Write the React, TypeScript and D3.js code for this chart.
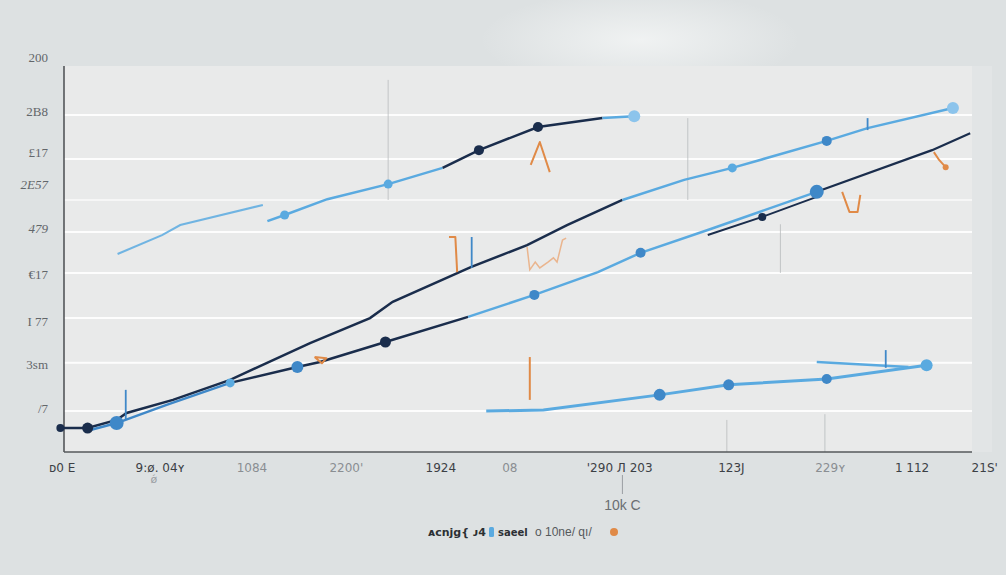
import React from "react";
import * as d3 from "d3";

// ---- data (x in 0–100 units, y in 0–100 units) ----
const yTickValues = [102.1, 88.3, 77.5, 69.4, 58.0, 46.1, 33.7, 22.8, 11.4];
const yTickLabels = ["200", "2B8", "£17", "2E57", "479", "€17", "I 77", "3sm", "/7"];
const gridValues = [87.3, 75.9, 65.3, 57.0, 46.4, 34.7, 23.1, 10.6];

const xTickValues = [-0.2, 10.6, 20.7, 31.1, 41.5, 49.1, 61.2, 73.5, 84.4, 93.4, 101.4];
const xTickLabels = ["ᴅ0 E", "9:ø. 04ʏ", "1084", "2200'", "1924", "08", "'290 Л 203", "123J", "229ʏ", "1 112", "21S'"];
const xTickDark = [true, true, false, false, true, false, true, true, false, true, true];

// upper light series (two pieces)
const seriesA1: [number, number][] = [[5.9, 51.3], [10.8, 56.2], [12.8, 58.8], [21.9, 64.0]];
const seriesA2: [number, number][] = [
  [22.4, 59.8], [24.3, 61.4], [29.0, 65.5], [35.7, 69.4], [41.7, 73.6],
  [45.7, 78.2], [52.2, 84.2], [59.3, 86.5], [62.8, 87.0],
];
// long rising series
const seriesB: [number, number][] = [
  [-0.4, 6.2], [2.6, 6.2], [5.8, 8.3], [6.9, 10.1], [12.0, 13.5], [18.3, 18.7],
  [27.1, 28.2], [33.7, 34.7], [36.2, 38.9], [44.8, 47.9], [51.0, 53.6], [55.4, 58.8],
  [61.5, 65.3], [68.3, 70.5], [73.6, 73.6], [84.0, 80.6], [88.5, 83.9], [97.9, 89.1],
];
// middle series
const seriesC: [number, number][] = [
  [2.9, 5.7], [5.8, 7.5], [11.3, 12.2], [18.3, 17.9], [25.7, 22.0], [28.2, 23.3],
  [35.4, 28.5], [44.5, 35.0], [51.8, 40.7], [58.8, 46.6], [63.5, 51.6], [70.9, 57.5],
  [82.9, 67.4], [95.6, 78.2], [99.8, 82.6],
];
const seriesE: [number, number][] = [[70.9, 56.2], [76.9, 60.9], [82.9, 66.1]];
// bottom series
const seriesD: [number, number][] = [
  [46.5, 10.6], [52.8, 10.9], [65.6, 14.8], [73.2, 17.4], [84.0, 18.9], [95.0, 22.5],
];
const seriesD2: [number, number][] = [[82.9, 23.3], [93.0, 22.0]];

// orange annotation strokes
const orangeMarks: [number, number][][] = [
  [[51.4, 74.4], [52.4, 80.3], [53.5, 72.5]],
  [[85.7, 67.4], [86.5, 62.2], [87.4, 62.2], [87.7, 66.6]],
  [[95.8, 77.7], [96.4, 75.6], [97.1, 73.8]],
  [[51.3, 24.6], [51.3, 13.5]],
  [[42.4, 55.7], [43.1, 55.7], [43.3, 46.6]],
  [[27.6, 24.6], [28.9, 24.3], [28.4, 23.0], [27.6, 24.6]],
];
const orangeFaint: [number, number][] = [
  [51.0, 53.1], [51.3, 47.2], [51.9, 49.2], [52.4, 47.7], [53.3, 49.2],
  [53.9, 50.3], [54.3, 49.2], [54.9, 54.9], [55.3, 55.4],
];
const blueSpikes: [number, number][][] = [
  [[6.8, 16.1], [6.8, 8.3]],
  [[44.9, 55.7], [44.9, 47.7]],
  [[90.5, 26.4], [90.5, 21.8]],
  [[88.5, 86.5], [88.5, 83.4]],
];
const faintVerticals: [number, number, number][] = [
  [35.7, 96.4, 65.3], [73.0, 8.3, 0], [83.8, 9.8, 0], [68.7, 86.5, 65.3], [78.9, 59.0, 46.4],
];

const NAVY = "#1a2d4c";
const LIGHT = "#5aaae0";
const MED = "#3f88c8";
const PALE = "#8cc4ec";
const ORANGE = "#e08a47";

export default function App() {
  const W = 1006, H = 575;
  const x = d3.scaleLinear().domain([0, 100]).range([64, 972]);
  const y = d3.scaleLinear().domain([0, 100]).range([452, 66]);
  const line = d3.line<[number, number]>().x((d) => x(d[0])).y((d) => y(d[1]));

  const seg = (arr: [number, number][], a: number, b: number) => arr.slice(a, b + 1);

  const dot = (p: [number, number], fill: string, r = 5, key?: string) => (
    <circle key={key} cx={x(p[0])} cy={y(p[1])} r={r} fill={fill} />
  );

  return (
    <svg width={W} height={H} style={{ position: "absolute", left: 0, top: 0, background: "#dde1e2" }}>
      <defs>
        <radialGradient id="glow" cx="0.5" cy="0.5" r="0.5">
          <stop offset="0%" stopColor="#f2f4f4" stopOpacity={0.9} />
          <stop offset="100%" stopColor="#f2f4f4" stopOpacity={0} />
        </radialGradient>
      </defs>
      <rect x={0} y={0} width={W} height={H} fill="#dde1e2" />
      <ellipse cx={640} cy={40} rx={160} ry={50} fill="url(#glow)" />
      <rect x={x(0)} y={y(100)} width={x(100) - x(0)} height={y(0) - y(100)} fill="#e9eaea" />
      <rect x={972} y={66} width={20} height={386} fill="#e2e5e6" />

      {gridValues.map((g, i) => (
        <line key={"g" + i} x1={x(0)} x2={x(100)} y1={y(g)} y2={y(g)} stroke="#ffffff" strokeWidth={2} opacity={i === 2 ? 0.6 : 0.95} />
      ))}
      {faintVerticals.map((v, i) => (
        <line key={"v" + i} x1={x(v[0])} x2={x(v[0])} y1={y(v[1])} y2={y(v[2])} stroke="#b9bcbe" strokeWidth={1} opacity={0.8} />
      ))}

      {/* axes */}
      <line x1={x(0)} x2={x(0)} y1={y(100)} y2={y(0)} stroke="#4a4d50" strokeWidth={1.5} />
      <line x1={x(0)} x2={x(100)} y1={y(0)} y2={y(0)} stroke="#55585b" strokeWidth={1.5} />

      {/* series A */}
      <path d={line(seriesA1) || ""} fill="none" stroke={LIGHT} strokeWidth={2} opacity={0.85} />
      <path d={line(seg(seriesA2, 0, 4)) || ""} fill="none" stroke={LIGHT} strokeWidth={2.5} />
      <path d={line(seg(seriesA2, 4, 7)) || ""} fill="none" stroke={NAVY} strokeWidth={2.5} />
      <path d={line(seg(seriesA2, 7, 8)) || ""} fill="none" stroke={LIGHT} strokeWidth={2.5} />

      {/* series B */}
      <path d={line(seg(seriesB, 0, 12)) || ""} fill="none" stroke={NAVY} strokeWidth={2.5} />
      <path d={line(seg(seriesB, 12, 17)) || ""} fill="none" stroke={LIGHT} strokeWidth={2.5} />

      {/* series C */}
      <path d={line(seg(seriesC, 0, 3)) || ""} fill="none" stroke={MED} strokeWidth={2.5} />
      <path d={line(seg(seriesC, 3, 7)) || ""} fill="none" stroke={NAVY} strokeWidth={2.5} />
      <path d={line(seg(seriesC, 7, 12)) || ""} fill="none" stroke={LIGHT} strokeWidth={2.5} />
      <path d={line(seg(seriesC, 12, 14)) || ""} fill="none" stroke={NAVY} strokeWidth={2.2} />
      <path d={line(seriesE) || ""} fill="none" stroke={NAVY} strokeWidth={2} />

      {/* series D */}
      <path d={line(seriesD) || ""} fill="none" stroke={LIGHT} strokeWidth={3} />
      <path d={line(seriesD2) || ""} fill="none" stroke={LIGHT} strokeWidth={2.5} />

      {/* spikes */}
      {blueSpikes.map((s, i) => (
        <path key={"bs" + i} d={line(s) || ""} fill="none" stroke={MED} strokeWidth={1.8} />
      ))}
      {orangeMarks.map((s, i) => (
        <path key={"om" + i} d={line(s) || ""} fill="none" stroke={ORANGE} strokeWidth={2} strokeLinejoin="round" />
      ))}
      <path d={line(orangeFaint) || ""} fill="none" stroke="#eab58e" strokeWidth={1.5} />

      {/* dots */}
      {dot(seriesA2[1], LIGHT, 4.5, "a1")}
      {dot(seriesA2[3], LIGHT, 4.5, "a2")}
      {dot(seriesA2[5], NAVY, 5, "a3")}
      {dot(seriesA2[6], NAVY, 5, "a4")}
      {dot(seriesA2[8], PALE, 6, "a5")}
      {dot(seriesB[0], NAVY, 4, "b0")}
      {dot(seriesB[1], NAVY, 5.5, "b1")}
      {dot(seriesB[14], LIGHT, 4.5, "b2")}
      {dot(seriesB[15], MED, 5, "b3")}
      {dot(seriesB[17], PALE, 6, "b4")}
      {dot(seriesC[1], MED, 7, "c1")}
      {dot(seriesC[3], LIGHT, 4.5, "c2")}
      {dot(seriesC[4], MED, 6, "c3")}
      {dot(seriesC[6], NAVY, 5.5, "c4")}
      {dot(seriesC[8], MED, 5, "c5")}
      {dot(seriesC[10], MED, 5, "c6")}
      {dot(seriesC[12], MED, 7, "c7")}
      {dot(seriesE[1], NAVY, 4, "e1")}
      {dot(seriesD[2], MED, 6, "d1")}
      {dot(seriesD[3], MED, 5.5, "d2")}
      {dot(seriesD[4], MED, 5, "d3")}
      {dot(seriesD[5], LIGHT, 6, "d4")}
      {dot(orangeMarks[2][2], ORANGE, 3, "o1")}

      {/* y labels */}
      {yTickValues.map((v, i) => (
        <text key={"yt" + i} x={48} y={y(v)} dy="0.35em" textAnchor="end" fontFamily="Liberation Serif, serif" fontSize={13} fill="#62666a" fontStyle={i === 3 || i === 4 ? "italic" : "normal"}>
          {yTickLabels[i]}
        </text>
      ))}

      {/* x labels */}
      {xTickValues.map((v, i) => (
        <text key={"xt" + i} x={x(v)} y={472} textAnchor="middle" fontFamily="DejaVu Sans, sans-serif" fontSize={12} fill={xTickDark[i] ? "#3c4045" : "#8a8e92"}>
          {xTickLabels[i]}
        </text>
      ))}
      <text x={x(9.9)} y={483} textAnchor="middle" fontFamily="DejaVu Sans, sans-serif" fontSize={11} fill="#9a9ea2">ǿ</text>
      <line x1={x(61.5)} x2={x(61.5)} y1={475} y2={494} stroke="#9a9ea2" strokeWidth={1} />
      <text x={x(61.5)} y={510} textAnchor="middle" fontFamily="Liberation Sans, sans-serif" fontSize={14} fill="#6a6e72">10k C</text>

      {/* legend */}
      <text x={428} y={536} fontFamily="DejaVu Sans, sans-serif" fontSize={11} fontWeight="bold" fill="#2c3034">ᴀcnjg{'{'} ᴊ4</text>
      <rect x={489} y={527} width={5} height={10} rx={1.5} fill={LIGHT} />
      <text x={498} y={536} fontFamily="DejaVu Sans, sans-serif" fontSize={10} fontWeight="bold" fill="#2c3034">saeel</text>
      <text x={535} y={536} fontFamily="Liberation Sans, sans-serif" fontSize={12} fill="#55595c">o 10ne/ ɋı/</text>
      <circle cx={614} cy={532} r={4} fill={ORANGE} />
    </svg>
  );
}
